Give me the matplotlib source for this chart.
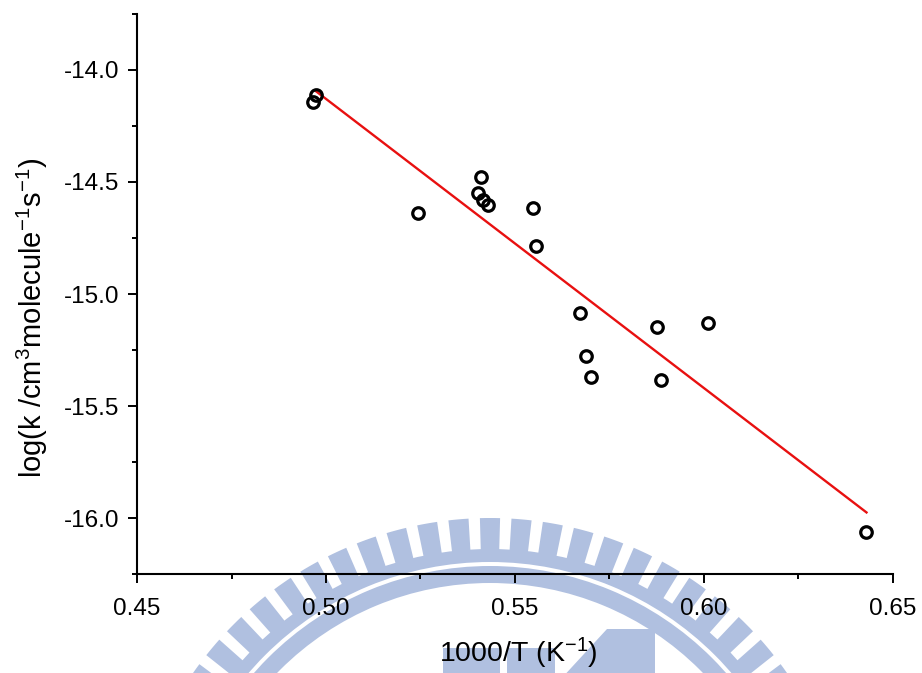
import numpy as np
import matplotlib
matplotlib.use("Agg")
from matplotlib import pyplot as plt
from matplotlib.patches import Wedge, Polygon, Rectangle

plt.rcParams['font.family'] = ['Liberation Sans', 'DejaVu Sans']
plt.rcParams['mathtext.fontset'] = 'custom'
plt.rcParams['mathtext.rm'] = 'Liberation Sans'
plt.rcParams['mathtext.it'] = 'Liberation Sans:italic'

# measured rate constants
inv_T = [0.4966, 0.4973, 0.5243, 0.5410, 0.5402, 0.5415, 0.5429, 0.5548,
         0.5555, 0.5672, 0.5688, 0.5701, 0.5876, 0.5886, 0.6010, 0.6430]
log_k = [-14.144, -14.112, -14.638, -14.478, -14.549, -14.580, -14.603, -14.616,
         -14.786, -15.085, -15.277, -15.371, -15.146, -15.384, -15.128, -16.061]

# linear fit: log k = a + b * (1000/T)
fit_a = -7.674
fit_b = -12.91
fit_range = [0.4972, 0.6430]

x_ticks = [0.45, 0.50, 0.55, 0.60, 0.65]
y_ticks = [-16.0, -15.5, -15.0, -14.5, -14.0]

fig = plt.figure(figsize=(9.22, 6.73), dpi=100)

# background seal, drawn in pixel units behind the plot
bg = fig.add_axes([0, 0, 1, 1], zorder=-1)
bg.set_xlim(0, 922)
bg.set_ylim(673, 0)
bg.axis('off')
seal = '#b0c0e0'
cx, cy = 490, 880
for k in range(-16, 17):
    ang = 270 + 5 * k
    bg.add_patch(Wedge((cx, cy), 362, ang - 1.6, ang + 1.6, width=34,
                       facecolor=seal, edgecolor='none'))
bg.add_patch(Wedge((cx, cy), 331, 0, 360, width=13, facecolor=seal, edgecolor='none'))
bg.add_patch(Wedge((cx, cy), 314, 0, 360, width=17, facecolor=seal, edgecolor='none'))
bg.add_patch(Rectangle((443, 648), 57, 30, facecolor=seal, edgecolor='none'))
bg.add_patch(Rectangle((507, 648), 48, 30, facecolor=seal, edgecolor='none'))
bg.add_patch(Polygon([(560, 680), (607, 629), (655, 629), (655, 680)],
                     facecolor=seal, edgecolor='none'))

ax = fig.add_axes([0.1486, 0.1471, 0.8199, 0.8321])
ax.set_facecolor('none')

ax.plot(inv_T, log_k, 'o', markersize=8.3, markerfacecolor='none',
        markeredgecolor='black', markeredgewidth=2.3, zorder=3)
fx = np.array(fit_range)
ax.plot(fx, fit_a + fit_b * fx, color='#e81010', linewidth=1.7, zorder=2)

ax.set_xlim(0.45, 0.65)
ax.set_ylim(-16.25, -13.75)
ax.set_xticks(x_ticks)
ax.set_yticks(y_ticks)
ax.set_xticklabels(['%.2f' % v for v in x_ticks])
ax.set_yticklabels(['%.1f' % v for v in y_ticks])
ax.set_xticks(np.arange(0.475, 0.65, 0.05), minor=True)
ax.set_yticks(np.arange(-16.25, -13.7, 0.25), minor=True)

for side in ['top', 'right']:
    ax.spines[side].set_visible(False)
for side in ['left', 'bottom']:
    ax.spines[side].set_linewidth(1.5)
ax.tick_params(which='major', direction='out', length=6.5, width=1.4,
               labelsize=17.5)
ax.tick_params(axis='y', which='major', pad=6)
ax.tick_params(axis='x', which='major', pad=10.5)
ax.tick_params(which='minor', direction='out', length=3.5, width=1.4)

fig.text(0.5618, 1 - 653 / 673.0, r'1000/T (K$^{\mathregular{-1}}$)', fontsize=20.5,
         ha='center', va='center')
fig.text(0.035, 1 - 318 / 673.0,
         r'log(k /cm$^{\mathregular{3}}$molecule$^{\mathregular{-1}}$s$^{\mathregular{-1}}$)',
         fontsize=21, rotation=90, ha='center', va='center')

fig.savefig('out.png', dpi=100)
